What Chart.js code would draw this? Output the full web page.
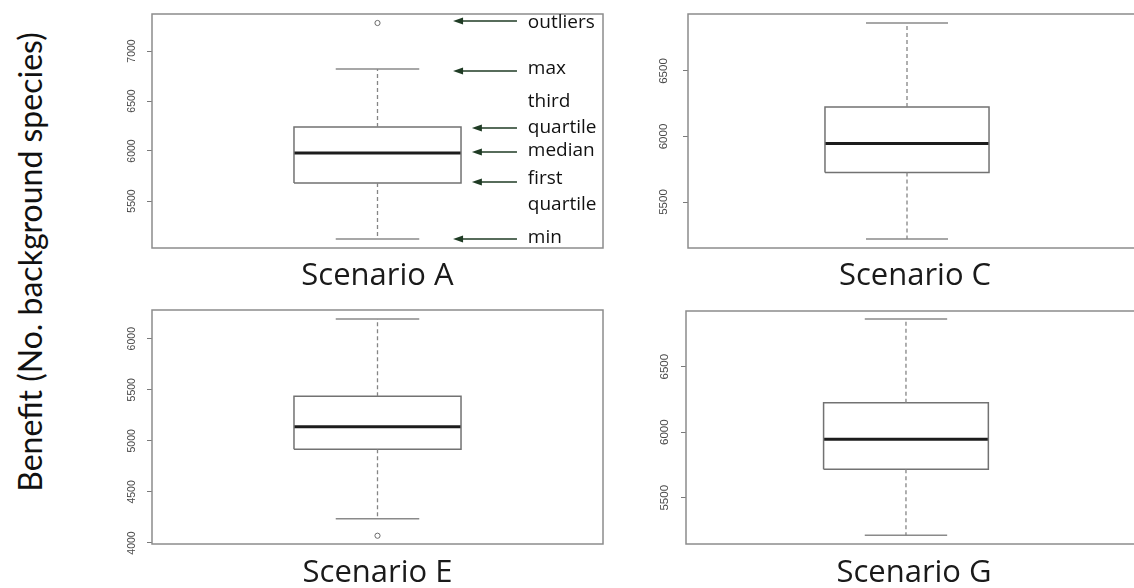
<!DOCTYPE html>
<html>
<head>
<meta charset="utf-8">
<script src="https://cdn.jsdelivr.net/npm/chart.js@4.4.1/dist/chart.umd.min.js"></script>
<style>
    html, body { margin: 0; padding: 0; background: #fff; overflow: hidden; width: 1134px; height: 588px; }
    canvas { position: absolute; }
    #yTitle {
        position: absolute; left: 29px; top: 262px;
        transform: translate(-50%, -50%) rotate(-90deg);
        font-family: Lato, sans-serif; font-size: 32px; color: #111; white-space: nowrap;
    }
</style>
</head>
<body>
<div id="yTitle">Benefit (No. background species)</div>
<canvas id="chartA" width="530" height="295" style="left:100px;top:0px"></canvas>
<canvas id="chartC" width="530" height="295" style="left:636px;top:0px"></canvas>
<canvas id="chartE" width="530" height="302" style="left:100px;top:290px"></canvas>
<canvas id="chartG" width="530" height="302" style="left:634px;top:290px"></canvas>
<script>
// box plot summaries, one entry per scenario
const scenarios = ["Scenario A", "Scenario C", "Scenario E", "Scenario G"];
const minValues = [5120, 5218, 4238, 5213];
const q1Values = [5680, 5725, 4918, 5718];
const medianValues = [5980, 5947, 5139, 5947];
const q3Values = [6240, 6225, 5436, 6225];
const maxValues = [6820, 6866, 6193, 6864];
const outlierValues = [[7280], [], [4071], []];

// axes
const tickValues = [
    [5500, 6000, 6500, 7000],
    [5500, 6000, 6500],
    [4000, 4500, 5000, 5500, 6000],
    [5500, 6000, 6500],
];
const yRanges = [[5030, 7370], [5149, 6935], [3990, 6281], [5147, 6925]];
const xRanges = [[0.46, 1.54], [0.466, 1.573], [0.46, 1.54], [0.466, 1.573]];

// labels pointing at the parts of the first box
const noteLabels = [["outliers"], ["max"], ["third", "quartile"], ["median"], ["first", "quartile"], ["min"]];
const noteValues = [7300, 6800, 6230, 5990, 5690, 5120];

// layout / style
const canvasIds = ["chartA", "chartC", "chartE", "chartG"];
const paddings = [
    { top: 14, right: 27, left: 0, bottom: 0 },
    { top: 14, right: 24, left: 0, bottom: 0 },
    { top: 20, right: 27, left: 0, bottom: 0 },
    { top: 21, right: 22, left: 0, bottom: 0 },
];
const titlePadding = [{ top: 9.4, bottom: 0.4 }, { top: 9.4, bottom: 0.4 }, { top: 10.4, bottom: 0.4 }, { top: 10.4, bottom: 0.4 }];
const tickFontSize = [10.5, 11.5, 10.5, 11.5];
const tickPadding = [3, 6, 3, 3];
const BOX_HALF = 0.2;
const CAP_HALF = 0.1;
const noteTips = [1.181, 1.181, 1.226, 1.226, 1.226, 1.181];
const NOTE_TAIL = 1.334;
const NOTE_TEXT = 1.36;
const NOTE_LINE_GAP = 26;
const noteAnchor = [0, 0, 1, 0, 0, 0];
const noteShift = [2, -2, 0, -1, -3, -1];

const framePlugin = {
    id: "frame",
    beforeDatasetsDraw(chart) {
        const { ctx, chartArea: a } = chart;
        ctx.save();
        ctx.strokeStyle = "#8c8c8c";
        ctx.lineWidth = 1.5;
        ctx.strokeRect(a.left, a.top, a.right - a.left, a.bottom - a.top);
        ctx.restore();
    },
};

const notesPlugin = {
    id: "notes",
    afterDatasetsDraw(chart) {
        const { ctx, scales: { x, y } } = chart;
        ctx.save();
        ctx.font = "19px 'Open Sans'";
        ctx.textBaseline = "middle";
        ctx.lineWidth = 1.5;
        noteLabels.forEach((lines, i) => {
            const py = y.getPixelForValue(noteValues[i]);
            const tip = x.getPixelForValue(noteTips[i]);
            const tail = x.getPixelForValue(NOTE_TAIL);
            ctx.strokeStyle = ctx.fillStyle = "#1f3b24";
            ctx.beginPath();
            ctx.moveTo(tail, py);
            ctx.lineTo(tip + 6, py);
            ctx.stroke();
            ctx.beginPath();
            ctx.moveTo(tip, py);
            ctx.lineTo(tip + 10, py - 3.5);
            ctx.lineTo(tip + 10, py + 3.5);
            ctx.closePath();
            ctx.fill();
            ctx.fillStyle = "#111";
            const tx = x.getPixelForValue(NOTE_TEXT);
            lines.forEach((t, j) => {
                ctx.fillText(t, tx, py + noteShift[i] + (j - noteAnchor[i]) * NOTE_LINE_GAP);
            });
        });
        ctx.restore();
    },
};

function segment(points, color, width, dash) {
    return {
        data: points,
        showLine: true,
        pointRadius: 0,
        borderColor: color,
        borderWidth: width,
        borderDash: dash || [],
        tension: 0,
    };
}

function boxDatasets(i) {
    const lo = 1 - BOX_HALF, hi = 1 + BOX_HALF;
    const q1 = q1Values[i], q3 = q3Values[i], med = medianValues[i];
    return [
        segment([{ x: 1, y: q3 }, { x: 1, y: maxValues[i] }], "#858585", 1.3, [4, 3]),
        segment([{ x: 1, y: q1 }, { x: 1, y: minValues[i] }], "#858585", 1.3, [4, 3]),
        segment([{ x: 1 - CAP_HALF, y: maxValues[i] }, { x: 1 + CAP_HALF, y: maxValues[i] }], "#8a8a8a", 1.5),
        segment([{ x: 1 - CAP_HALF, y: minValues[i] }, { x: 1 + CAP_HALF, y: minValues[i] }], "#8a8a8a", 1.5),
        segment([{ x: lo, y: q1 }, { x: hi, y: q1 }, { x: hi, y: q3 }, { x: lo, y: q3 }, { x: lo, y: q1 }], "#727272", 1.5),
        segment([{ x: lo, y: med }, { x: hi, y: med }], "#1c1c1c", 3),
        {
            data: outlierValues[i].map((v) => ({ x: 1, y: v })),
            showLine: false,
            pointRadius: 2.6,
            pointStyle: "circle",
            backgroundColor: "rgba(0,0,0,0)",
            borderColor: "#6a6a6a",
            borderWidth: 1,
        },
    ];
}

scenarios.forEach((name, i) => {
    const ctx = document.getElementById(canvasIds[i]).getContext("2d");
    new Chart(ctx, {
        type: "scatter",
        data: { datasets: boxDatasets(i) },
        plugins: i === 0 ? [framePlugin, notesPlugin] : [framePlugin],
        options: {
            responsive: false,
            animation: false,
            layout: { padding: paddings[i] },
            plugins: {
                legend: { display: false },
                tooltip: { enabled: false },
                title: {
                    display: true,
                    text: name,
                    position: "bottom",
                    fullSize: false,
                    color: "#1a1a1a",
                    font: { family: "'Open Sans'", size: 31, weight: "normal" },
                    padding: titlePadding[i],
                },
            },
            scales: {
                x: { type: "linear", display: false, min: xRanges[i][0], max: xRanges[i][1] },
                y: {
                    min: yRanges[i][0],
                    max: yRanges[i][1],
                    afterFit: (s) => { s.width = 52; },
                    afterBuildTicks: (s) => { s.ticks = tickValues[i].map((v) => ({ value: v })); },
                    border: { display: false },
                    grid: { drawOnChartArea: false, drawTicks: true, tickLength: 5, color: "#7a7a7a" },
                    ticks: {
                        autoSkip: false,
                        minRotation: 90,
                        maxRotation: 90,
                        crossAlign: "center",
                        padding: tickPadding[i],
                        color: "#4a4a4a",
                        font: { family: "'Liberation Sans'", size: tickFontSize[i] },
                        callback: (v) => String(v),
                    },
                },
            },
        },
    });
});
</script>
</body>
</html>
